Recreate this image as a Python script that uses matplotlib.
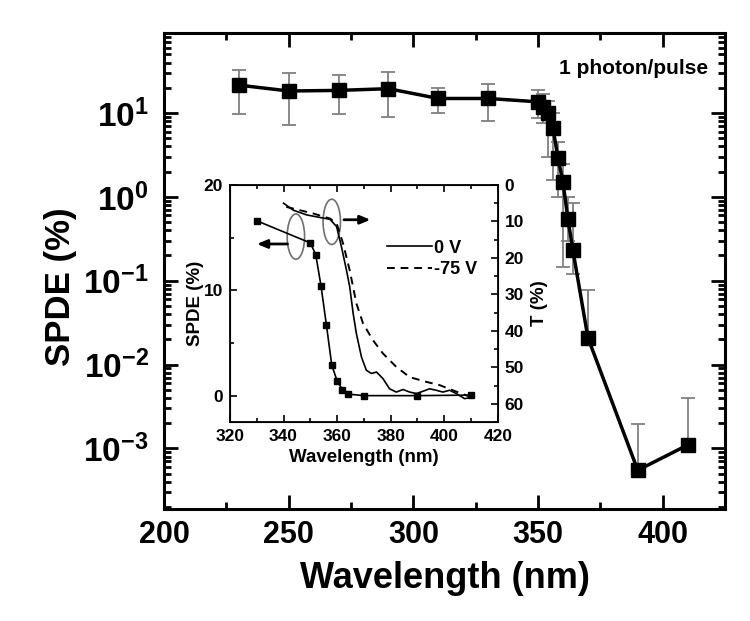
import numpy as np
import matplotlib
matplotlib.use('Agg')
import matplotlib.pyplot as plt
from matplotlib.patches import Ellipse
from matplotlib.ticker import MultipleLocator, LogLocator, NullFormatter

plt.rcParams['font.family'] = ['Liberation Sans', 'DejaVu Sans']
plt.rcParams['font.weight'] = 'bold'
plt.rcParams['mathtext.fontset'] = 'custom'
plt.rcParams['mathtext.rm'] = 'Liberation Sans:bold'
plt.rcParams['mathtext.bf'] = 'Liberation Sans:bold'
plt.rcParams['mathtext.default'] = 'bf'

# main plot data (1 photon/pulse)
wl_main = [230, 250, 270, 290, 310, 330, 350, 352, 354, 356, 358, 360, 362, 364, 370, 390, 410]
spde_main = [21.5, 18.3, 18.6, 19.5, 14.9, 14.9, 13.6, 11.9, 10.1, 6.6, 2.9, 1.5, 0.54, 0.23, 0.021, 5.5e-4, 1.1e-3]
err_hi = [33, 30.4, 28.4, 31, 20, 22, 18.8, 17, 14, 10, 4.5, 2.5, 1.0, 0.85, 0.078, 1.95e-3, 4.0e-3]
err_lo = [9.6, 7.2, 9.6, 8.9, 10, 8, 8.7, 7.5, 3.0, 1.6, 1.0, 0.146, 0.3, 0.12, 0.021, 5.5e-4, 1.1e-3]
y_ticks = [1e-3, 1e-2, 1e-1, 1, 10]

# inset: SPDE (linear)
wl_inset = [330, 350, 352, 354, 356, 358, 360, 362, 364, 370, 390, 410]
spde_inset = [16.6, 14.5, 13.4, 10.4, 6.7, 2.9, 1.4, 0.57, 0.15, 0.0, 0.0, 0.05]

# inset: transmission T (%)
wl_t0 = [340, 343.6, 348.6, 353.5, 357.3, 359.8, 361.6, 363.5, 364.7, 366, 367.2, 369.1, 370.9,
         372.8, 374.7, 377.1, 379.6, 382.1, 384.6, 387.1, 389.6, 392, 394.5, 397, 399.5, 402,
         404.5, 407.6, 410.7]
t_0v = [5.0, 6.9, 8.2, 8.9, 9.4, 11.4, 16.9, 23.4, 27.9, 35.3, 40.8, 47.2, 50.8,
        51.7, 51.3, 53.1, 55.9, 56.8, 56.1, 56.8, 57.2, 56.6, 55.9, 56.3, 56.8, 56.3,
        57.2, 58.6, 58.2]
wl_t75 = [341, 351, 357.3, 359.8, 362.2, 364.7, 367.2, 369.7, 373.4, 377.1, 382.1, 387.1,
          393.3, 398.3, 403.2, 408.2, 410.7]
t_75v = [6.0, 7.8, 9.2, 10.5, 16.0, 23.4, 32.5, 38.0, 42.6, 46.2, 49.9, 52.7,
         54.0, 54.9, 56.3, 57.7, 58.2]

fig = plt.figure(figsize=(7.5, 6.21), dpi=100)
ax = fig.add_axes([0.2187, 0.1804, 0.748, 0.7665])

y = np.array(spde_main)
yerr = [y - np.array(err_lo), np.array(err_hi) - y]
ax.errorbar(wl_main, spde_main, yerr=yerr, fmt='none', ecolor='#808080', elinewidth=1.3,
            capsize=5, capthick=1.3, zorder=2)
ax.plot(wl_main, spde_main, '-s', color='k', lw=2.5, ms=10, zorder=3)

ax.set_yscale('log')
ax.set_xlim(200, 425)
ax.set_ylim(1.9e-4, 90)
ax.xaxis.set_major_locator(MultipleLocator(50))
ax.xaxis.set_minor_locator(MultipleLocator(25))
ax.set_yticks(y_ticks)
ax.yaxis.set_minor_locator(LogLocator(base=10, subs=np.arange(2, 10), numticks=20))
ax.yaxis.set_minor_formatter(NullFormatter())
ax.tick_params(which='both', direction='in', top=True, right=True, width=2)
ax.tick_params(which='major', length=10)
ax.tick_params(which='minor', length=5)
ax.tick_params(axis='x', which='major', labelsize=22, pad=8)
ax.tick_params(axis='y', which='major', labelsize=24, pad=11)
for s in ax.spines.values():
    s.set_linewidth(2.2)
ax.set_xlabel('Wavelength (nm)', fontsize=26, fontweight='bold', labelpad=8)
ax.set_ylabel('SPDE (%)', fontsize=25, fontweight='bold')
ax.yaxis.set_label_coords(-0.155, 0.466)
ax.text(0.97, 0.925, '1 photon/pulse', transform=ax.transAxes, ha='right', va='center',
        fontsize=15, fontweight='bold')

# inset
axi = fig.add_axes([0.3067, 0.3205, 0.357, 0.3816])
axi.plot(wl_inset, spde_inset, '-s', color='k', lw=1.2, ms=4.5)
axi.set_xlim(320, 420)
axi.set_ylim(-2.5, 20)
axi.xaxis.set_major_locator(MultipleLocator(20))
axi.xaxis.set_minor_locator(MultipleLocator(10))
axi.yaxis.set_major_locator(MultipleLocator(10))
axi.yaxis.set_minor_locator(MultipleLocator(5))
axi.tick_params(which='both', direction='in', top=True, labelsize=12.5, width=1.2)
axi.tick_params(which='major', length=5, pad=5)
axi.tick_params(which='minor', length=3)
axi.set_xlabel('Wavelength (nm)', fontsize=13.5, fontweight='bold', labelpad=4)
axi.set_ylabel('SPDE (%)', fontsize=13.5, fontweight='bold', labelpad=0)
for s in axi.spines.values():
    s.set_linewidth(1.3)

axt = axi.twinx()
axt.plot(wl_t0, t_0v, '-', color='k', lw=1.2, label='0 V')
axt.plot(wl_t75, t_75v, '--', color='k', lw=1.4, dashes=(4, 3), label='-75 V')
axt.set_ylim(65, 0)
axt.yaxis.set_major_locator(MultipleLocator(10))
axt.yaxis.set_minor_locator(MultipleLocator(5))
axt.tick_params(which='both', direction='in', labelsize=12.5, width=1.2)
axt.tick_params(which='major', length=5, pad=5)
axt.tick_params(which='minor', length=3)
axt.set_ylabel('T (%)', fontsize=13.5, fontweight='bold', labelpad=5)
leg = axt.legend(loc='upper left', bbox_to_anchor=(0.56, 0.80), frameon=False,
                 fontsize=13, handlelength=2.5, handletextpad=0.1, labelspacing=0.25,
                 borderaxespad=0)

# ovals and arrows marking which axis each curve belongs to
axi.add_patch(Ellipse((344.6, 15.1), 6.5, 4.3, fill=False, ec='#707070', lw=1.2))
axi.add_patch(Ellipse((358.0, 16.5), 6.5, 4.3, fill=False, ec='#707070', lw=1.2))
axi.annotate('', xy=(329.0, 14.4), xytext=(342.5, 14.4),
             arrowprops=dict(arrowstyle='-|>,head_length=0.6,head_width=0.25', lw=2, color='k'))
axi.annotate('', xy=(373.5, 16.7), xytext=(361.5, 16.7),
             arrowprops=dict(arrowstyle='-|>,head_length=0.6,head_width=0.25', lw=2, color='k'))

fig.savefig('out.png', dpi=100)
